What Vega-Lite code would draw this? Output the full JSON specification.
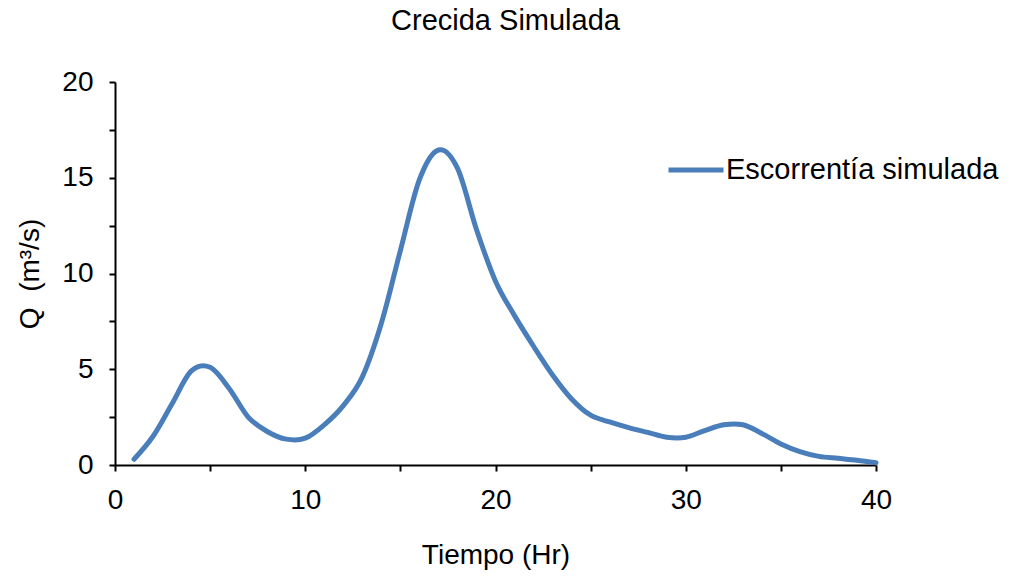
{
  "$schema": "https://vega.github.io/schema/vega-lite/v6.json",
  "width": 761,
  "height": 383,
  "autosize": "none",
  "padding": {"left": 115, "top": 82, "right": 134, "bottom": 121},
  "background": "white",
  "title": {"text": "Crecida Simulada", "font": "Liberation Sans", "fontSize": 29, "fontWeight": "normal", "color": "black", "anchor": "middle", "frame": "group", "dx": 10, "baseline": "bottom", "offset": 3},
  "config": {"view": {"stroke": null}},
  "data": {"values": [
    {"t": 1, "q": 0.3, "serie": "Escorrentía simulada"},
    {"t": 2, "q": 1.5, "serie": "Escorrentía simulada"},
    {"t": 3, "q": 3.2, "serie": "Escorrentía simulada"},
    {"t": 4, "q": 4.9, "serie": "Escorrentía simulada"},
    {"t": 5, "q": 5.1, "serie": "Escorrentía simulada"},
    {"t": 6, "q": 4.0, "serie": "Escorrentía simulada"},
    {"t": 7, "q": 2.5, "serie": "Escorrentía simulada"},
    {"t": 8, "q": 1.75, "serie": "Escorrentía simulada"},
    {"t": 9, "q": 1.35, "serie": "Escorrentía simulada"},
    {"t": 10, "q": 1.4, "serie": "Escorrentía simulada"},
    {"t": 11, "q": 2.1, "serie": "Escorrentía simulada"},
    {"t": 12, "q": 3.1, "serie": "Escorrentía simulada"},
    {"t": 13, "q": 4.6, "serie": "Escorrentía simulada"},
    {"t": 14, "q": 7.4, "serie": "Escorrentía simulada"},
    {"t": 15, "q": 11.2, "serie": "Escorrentía simulada"},
    {"t": 16, "q": 14.9, "serie": "Escorrentía simulada"},
    {"t": 17, "q": 16.45, "serie": "Escorrentía simulada"},
    {"t": 18, "q": 15.5, "serie": "Escorrentía simulada"},
    {"t": 19, "q": 12.3, "serie": "Escorrentía simulada"},
    {"t": 20, "q": 9.6, "serie": "Escorrentía simulada"},
    {"t": 21, "q": 7.8, "serie": "Escorrentía simulada"},
    {"t": 22, "q": 6.2, "serie": "Escorrentía simulada"},
    {"t": 23, "q": 4.7, "serie": "Escorrentía simulada"},
    {"t": 24, "q": 3.45, "serie": "Escorrentía simulada"},
    {"t": 25, "q": 2.6, "serie": "Escorrentía simulada"},
    {"t": 26, "q": 2.25, "serie": "Escorrentía simulada"},
    {"t": 27, "q": 1.95, "serie": "Escorrentía simulada"},
    {"t": 28, "q": 1.7, "serie": "Escorrentía simulada"},
    {"t": 29, "q": 1.45, "serie": "Escorrentía simulada"},
    {"t": 30, "q": 1.45, "serie": "Escorrentía simulada"},
    {"t": 31, "q": 1.8, "serie": "Escorrentía simulada"},
    {"t": 32, "q": 2.1, "serie": "Escorrentía simulada"},
    {"t": 33, "q": 2.1, "serie": "Escorrentía simulada"},
    {"t": 34, "q": 1.65, "serie": "Escorrentía simulada"},
    {"t": 35, "q": 1.1, "serie": "Escorrentía simulada"},
    {"t": 36, "q": 0.7, "serie": "Escorrentía simulada"},
    {"t": 37, "q": 0.45, "serie": "Escorrentía simulada"},
    {"t": 38, "q": 0.35, "serie": "Escorrentía simulada"},
    {"t": 39, "q": 0.25, "serie": "Escorrentía simulada"},
    {"t": 40, "q": 0.12, "serie": "Escorrentía simulada"}
  ]},
  "mark": {"type": "line", "interpolate": "cardinal", "tension": 0, "strokeWidth": 5, "strokeCap": "round", "strokeJoin": "round"},
  "encoding": {
    "x": {"field": "t", "type": "quantitative",
      "scale": {"domain": [0, 40], "nice": false, "zero": false},
      "axis": {"values": [0, 5, 10, 15, 20, 25, 30, 35, 40], "labelExpr": "datum.value % 10 === 0 ? datum.label : ''",
        "title": "Tiempo (Hr)", "grid": false, "tickSize": 6, "tickWidth": 2, "tickColor": "black", "domainColor": "black", "domainWidth": 2,
        "labelFont": "Liberation Sans", "labelFontSize": 28, "labelColor": "black", "labelPadding": 15, "labelFlush": false, "labelOverlap": false,
        "titleFont": "Liberation Sans", "titleFontSize": 28, "titleFontWeight": "normal", "titleColor": "black", "titlePadding": 27}},
    "y": {"field": "q", "type": "quantitative",
      "scale": {"domain": [0, 20], "nice": false},
      "axis": {"values": [0, 2.5, 5, 7.5, 10, 12.5, 15, 17.5, 20], "labelExpr": "datum.value % 5 === 0 ? datum.label : ''",
        "title": "Q\u00a0 (m³/s)", "grid": false, "tickSize": 6, "tickWidth": 2, "tickColor": "black", "domainColor": "black", "domainWidth": 2,
        "labelFont": "Liberation Sans", "labelFontSize": 28, "labelColor": "black", "labelPadding": 16, "labelFlush": false, "labelOverlap": false,
        "titleFont": "Liberation Sans", "titleFontSize": 28, "titleFontWeight": "normal", "titleColor": "black", "titlePadding": 17}},
    "color": {"field": "serie", "type": "nominal",
      "scale": {"range": ["#4a7ebb"]},
      "legend": {"orient": "none", "legendX": 551, "legendY": 58, "title": null, "padding": 0,
        "symbolType": "stroke", "symbolSize": 3025, "symbolStrokeWidth": 5, "symbolStrokeColor": "#4a7ebb",
        "labelFont": "Liberation Sans", "labelFontSize": 29, "labelColor": "black", "labelOffset": 0, "labelLimit": 400}}
  }
}
